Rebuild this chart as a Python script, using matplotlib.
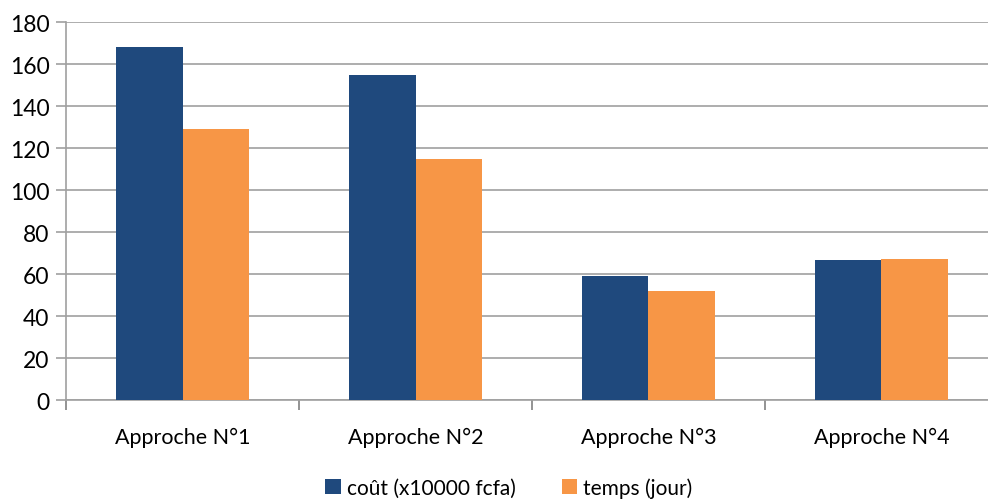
import matplotlib
matplotlib.use("Agg")
import matplotlib.pyplot as plt
import numpy as np

categories = ["Approche N°1", "Approche N°2", "Approche N°3", "Approche N°4"]
cout = [168, 155, 59, 66.5]
temps = [129, 115, 52, 67]
series_names = ["coût (x10000 fcfa)", "temps (jour)"]

plt.rcParams["font.family"] = ["Lato", "DejaVu Sans"]

fig = plt.figure(figsize=(9.88, 5.02), dpi=100)
ax = fig.add_axes([0.067, 0.201, 0.943, 0.753])

x = np.arange(len(categories))
w = 0.285
ax.bar(x - w / 2, cout, w, color="#1F497D", label=series_names[0], zorder=3)
ax.bar(x + w / 2, temps, w, color="#F79646", label=series_names[1], zorder=3)

ax.set_xlim(-0.5, len(categories) - 0.5)
ax.set_ylim(0, 180)
ax.set_yticks(range(0, 181, 20))
ax.yaxis.grid(True, color="#a0a0a0", linewidth=1.2, zorder=0)
ax.tick_params(axis="y", labelsize=16.5, length=7, color="#a0a0a0", width=1.2, pad=5)

ax.set_xticks(x)
ax.set_xticklabels(categories, fontsize=15.5)
ax.tick_params(axis="x", length=0, pad=19)
ax.set_xticks(np.arange(-0.5, len(categories), 1), minor=True)
ax.tick_params(axis="x", which="minor", length=7, color="#808080", width=1.2)

for s in ["top", "right"]:
    ax.spines[s].set_visible(False)
ax.spines["left"].set_color("#a0a0a0")
ax.spines["bottom"].set_color("#a0a0a0")
ax.spines["left"].set_linewidth(1.2)
ax.spines["bottom"].set_linewidth(1.2)

fig.legend(loc="center", bbox_to_anchor=(0.515, 0.027), ncol=2, frameon=False,
           fontsize=15, handlelength=0.75, handleheight=0.75, handletextpad=0.3,
           columnspacing=2.2, borderpad=0.1)

fig.savefig("out.png", dpi=100)
